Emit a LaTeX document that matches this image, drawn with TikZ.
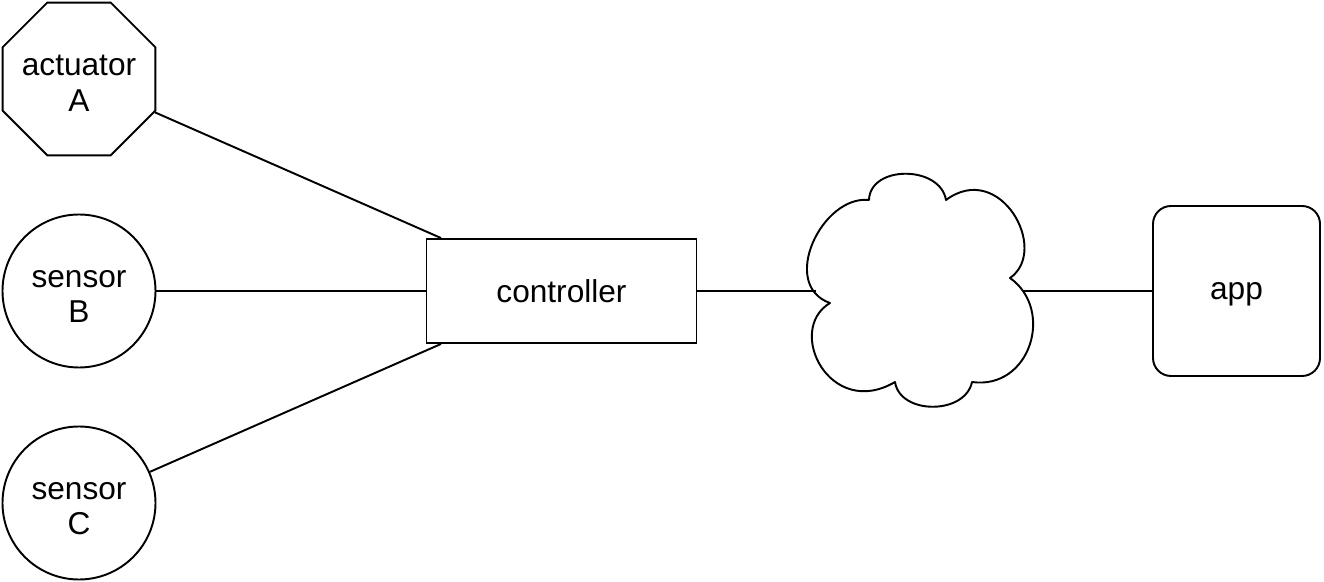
\documentclass[tikz,border=0pt]{standalone}
\usepackage{fontspec}
\setmainfont{Liberation Sans}
\usetikzlibrary{shapes.geometric}
\usetikzlibrary{positioning}
\tikzstyle{every picture} = [line width=1.1pt, node distance=4.24cm, on grid]
\tikzstyle{actuator} = [regular polygon, regular polygon sides=8, draw, black, minimum size=3.31cm, inner sep=-0.2cm, align=center, font=\fontsize{18}{20}\selectfont]
\tikzstyle{sensor} = [circle, draw, black, minimum size=3.06cm, inner sep=1pt, align=center, font=\fontsize{18}{20}\selectfont]
\tikzstyle{controller} = [rectangle, draw, black, minimum width=5.4cm, minimum height=2.08cm, font=\fontsize{18}{20}\selectfont]
\tikzstyle{app} = [rectangle, rounded corners=0.36cm, draw, black, minimum width=3.34cm, minimum height=3.4cm, text depth=0pt, font=\fontsize{18}{20}\selectfont]
\tikzstyle{network} = [inner sep=0pt, minimum size=1pt]
\begin{document}
\begin{tikzpicture}
            \useasboundingbox (-1.58,-5.82) rectangle (24.9,5.82);
            \node[sensor] (sensorB) {\rule{0pt}{0.56cm}sensor\\B};
            \node[actuator] (actuatorA) [above = of sensorB] {\rule{0pt}{0.58cm}actuator\\A};
            \node[sensor] (sensorC) [below = of sensorB] {\rule{0pt}{0.56cm}sensor\\C};
            \node[controller] (ctrl) [right = 9.65cm of sensorB] {controller};
            \node[network] (net) [right = 7.15cm of ctrl] {};
            \node[app] (app) [right = 6.35cm of net] {app};
            % cloud outline
            \begin{scope}[shift={(net.center)}, x=0.02cm, y=-0.02cm, line join=round]
              \draw (-50,-91) .. controls (-97,-96) and (-140,-6) .. (-89,12)
                .. controls (-134,39) and (-89,129) .. (-24,91)
                .. controls (-19,124) and (46,124) .. (53,91)
                .. controls (111,99) and (136,19) .. (91,-13)
                .. controls (131,-41) and (81,-131) .. (27,-91)
                .. controls (21,-126) and (-49,-126) .. cycle;
            \end{scope}
            \coordinate (netW) at ([xshift=-2.06cm]net.center);
            \coordinate (netE) at ([xshift=2.07cm]net.center);
            \draw (actuatorA) -- (ctrl);
            \draw (sensorB) -- (ctrl);
            \draw (sensorC) -- (ctrl);
            \draw (ctrl) -- (netW);
            \draw (netE) -- (app);
\end{tikzpicture}
\end{document}
